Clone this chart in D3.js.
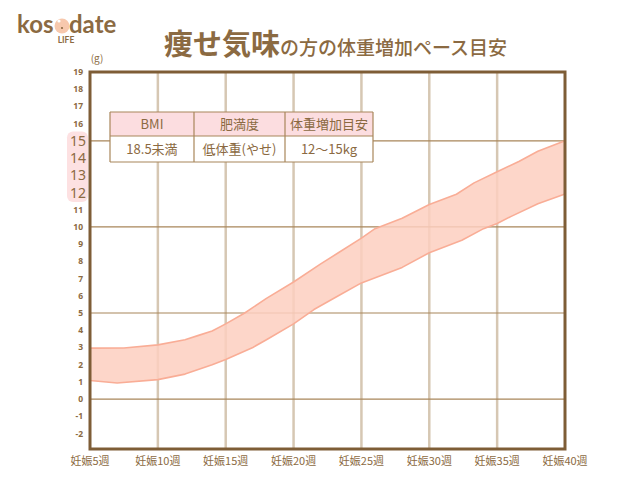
<!DOCTYPE html>
<html><head><meta charset="utf-8">
<script src="https://cdn.jsdelivr.net/npm/d3@7"></script>
<style>html,body{margin:0;padding:0;background:#fff;}svg{display:block;}</style>
</head><body>
<svg id="c" width="640" height="480"></svg>
<script>
const xTickWeeks = [5,10,15,20,25,30,35,40];
const xTickLabels = ["妊娠5週","妊娠10週","妊娠15週","妊娠20週","妊娠25週","妊娠30週","妊娠35週","妊娠40週"];
const yTicks = [19,18,17,16,15,14,13,12,11,10,9,8,7,6,5,4,3,2,1,0,-1,-2];
const yHighlight = [12,13,14,15];
const yMajor = [0,5,10,15];
const upperWeeks  = [5,7.5,10,12,13,14,15,16.4,18,20,22,23.3,25,26,28,30,32,33.3,35,36.6,38,40];
const upperValues = [2.96,2.97,3.15,3.45,3.7,3.95,4.37,5.0,5.85,6.8,7.85,8.5,9.35,9.9,10.5,11.3,11.9,12.56,13.2,13.8,14.4,15];
const lowerWeeks  = [5,7,10,12,14,15,17,18,20,21.5,23.3,25,28,30,32.4,34,35,36,38,40];
const lowerValues = [1.08,0.93,1.13,1.45,2.0,2.3,3.0,3.45,4.37,5.2,6.0,6.75,7.65,8.5,9.23,9.9,10.2,10.6,11.35,11.92];
const tableHeader = ["BMI","肥満度","体重増加目安"];
const tableRow = ["18.5未満","低体重(やせ)","12〜15kg"];
const titleBig = "痩せ気味";
const titleSmall = "の方の体重増加ペース目安";

const svg = d3.select("#c");
const brown = "#7e5d36", textBrown = "#8b6a42";
const x = d3.scaleLinear().domain([5,40]).range([90,565]);
const y = d3.scaleLinear().domain([-2.9,19]).range([449,72]);

// logo
const logo = svg.append("g").attr("font-family","Lato, 'Noto Sans', sans-serif").attr("font-weight","700").attr("fill",textBrown);
logo.append("text").attr("x",17).attr("y",33).attr("font-size",24).text("kos");
logo.append("circle").attr("cx",62).attr("cy",26).attr("r",7.5).attr("fill","#f7c8ad");
logo.append("circle").attr("cx",62).attr("cy",28).attr("r",1.1).attr("fill",textBrown);
logo.append("circle").attr("cx",59).attr("cy",21).attr("r",1.6).attr("fill","#fff");
logo.append("text").attr("x",69).attr("y",33).attr("font-size",24).text("date");
logo.append("text").attr("x",66).attr("y",43).attr("font-size",8.5).attr("text-anchor","middle").text("LIFE");

// title
const t = svg.append("text").attr("x",164).attr("y",55).attr("fill",textBrown)
  .attr("font-family","'Noto Sans CJK JP', sans-serif").attr("font-weight","700");
t.append("tspan").attr("font-size",29).attr("font-weight","600").text(titleBig);
t.append("tspan").attr("font-size",19).attr("font-weight","500").text(titleSmall);

svg.append("text").attr("x",97).attr("y",62).attr("fill",textBrown).attr("font-size",10)
  .attr("font-family","'Noto Sans CJK JP', sans-serif").attr("text-anchor","middle").text("(g)");

// vertical grid
svg.append("g").selectAll("line").data(xTickWeeks.slice(1,-1)).join("line")
  .attr("x1",d=>x(d)).attr("x2",d=>x(d)).attr("y1",y(19)).attr("y2",y(-2.9))
  .attr("stroke","#d6c7b3").attr("stroke-width",2.5);
// horizontal grid
svg.append("g").selectAll("line").data(yMajor).join("line")
  .attr("x1",x(5)).attr("x2",x(40)).attr("y1",d=>y(d)).attr("y2",d=>y(d))
  .attr("stroke","#a8865a").attr("stroke-width",1.2);

// band
const pts = upperWeeks.map((w,i)=>[w,upperValues[i]])
  .concat(lowerWeeks.map((w,i)=>[w,lowerValues[i]]).reverse());
const line = d3.line().x(d=>x(d[0])).y(d=>y(d[1]));
svg.append("path").attr("d",line(pts)+"Z")
  .attr("fill","#fdcfc0").attr("fill-opacity",0.85)
  .attr("stroke","#f9ad96").attr("stroke-width",1.6).attr("stroke-linejoin","round");

// frame
svg.append("rect").attr("x",x(5)).attr("y",y(19)).attr("width",x(40)-x(5)).attr("height",y(-2.9)-y(19))
  .attr("fill","none").attr("stroke",brown).attr("stroke-width",3);

// y labels highlight
svg.append("rect").attr("x",67).attr("y",y(15.55)).attr("width",21).attr("height",y(11.45)-y(15.55))
  .attr("rx",6).attr("fill","#fde1e2");
svg.append("g").selectAll("text").data(yTicks).join("text")
  .attr("x",d=>yHighlight.includes(d)?86:83).attr("y",d=>y(d))
  .attr("dy","0.36em").attr("text-anchor","end")
  .attr("font-size",d=>yHighlight.includes(d)?14:8.5)
  .attr("font-weight",d=>yHighlight.includes(d)?400:700)
  .attr("font-family","'Noto Sans', sans-serif")
  .attr("fill",textBrown).text(d=>d);

// x labels
svg.append("g").selectAll("text").data(xTickWeeks).join("text")
  .attr("x",d=>x(d)).attr("y",465).attr("text-anchor","middle")
  .attr("font-size",11).attr("font-family","'Noto Sans CJK JP', sans-serif")
  .attr("fill",textBrown).text((d,i)=>xTickLabels[i]);

// table
const colX = [110,194,285,373];
const rowY = [112,136,162];
const tb = svg.append("g");
tb.append("rect").attr("x",colX[0]).attr("y",rowY[0]).attr("width",colX[3]-colX[0]).attr("height",rowY[1]-rowY[0]).attr("fill","#fcdde0");
tb.append("rect").attr("x",colX[0]).attr("y",rowY[1]).attr("width",colX[3]-colX[0]).attr("height",rowY[2]-rowY[1]).attr("fill","#fff");
tb.selectAll("line.v").data(colX).join("line").attr("x1",d=>d).attr("x2",d=>d).attr("y1",rowY[0]).attr("y2",rowY[2])
  .attr("stroke","#a8865a").attr("stroke-width",1.2);
tb.selectAll("line.h").data(rowY).join("line").attr("class","h").attr("x1",colX[0]).attr("x2",colX[3]).attr("y1",d=>d).attr("y2",d=>d)
  .attr("stroke","#a8865a").attr("stroke-width",1.2);
[tableHeader, tableRow].forEach((row,r)=>{
  tb.append("g").selectAll("text").data(row).join("text")
    .attr("x",(d,i)=>(colX[i]+colX[i+1])/2).attr("y",(rowY[r]+rowY[r+1])/2)
    .attr("dy","0.36em").attr("text-anchor","middle").attr("font-size",13)
    .attr("font-family","'Noto Sans CJK JP', sans-serif").attr("fill",textBrown).text(d=>d);
});
</script>
</body></html>
